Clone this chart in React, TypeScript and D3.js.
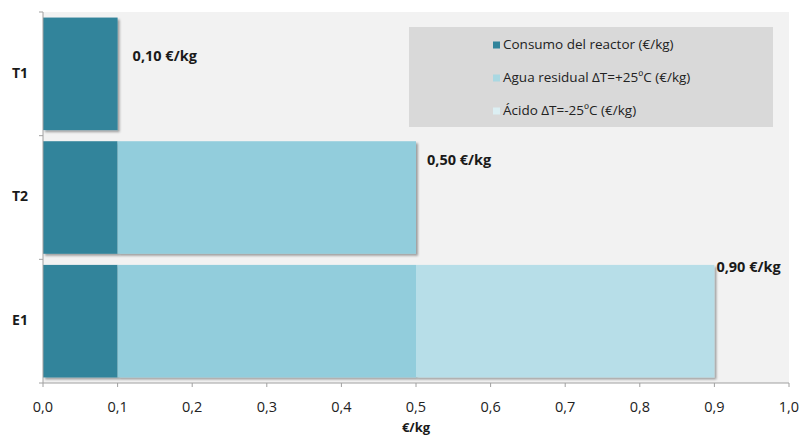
import React from "react";
import * as d3 from "d3";

const categories = ["T1", "T2", "E1"];
const seriesNames = [
  "Consumo del reactor (€/kg)",
  "Agua residual ΔT=+25ºC (€/kg)",
  "Ácido ΔT=-25ºC (€/kg)",
];
const reactor = [0.1, 0.1, 0.1];
const aguaResidual = [0, 0.4, 0.4];
const acido = [0, 0, 0.4];
const totals = [0.1, 0.5, 0.9];
const xTicks = [0, 0.1, 0.2, 0.3, 0.4, 0.5, 0.6, 0.7, 0.8, 0.9, 1.0];

// presentation
const colors = ["#31849b", "#92cddc", "#b7dee8"];
const legendSwatch = ["#31849b", "#a9d8e2", "#dceff3"];
const labelOffsets = [
  { dx: 15, dy: 40 },
  { dx: 11, dy: 20 },
  { dx: 2, dy: 3 },
];

const W = 801;
const H = 436;
const margin = { left: 43, right: 12, top: 12, bottom: 53 };
const font = "'Open Sans', sans-serif";

const fmtTick = (v: number) => d3.format(".1f")(v).replace(".", ",");
const fmtTotal = (v: number) => `${d3.format(".2f")(v).replace(".", ",")} €/kg`;

export default function App() {
  const x = d3.scaleLinear().domain([0, 1]).range([margin.left, W - margin.right]);
  const y = d3
    .scaleBand<string>()
    .domain(categories)
    .range([margin.top, H - margin.bottom])
    .paddingInner(0.09)
    .paddingOuter(0.045);

  const rows = categories.map((c, i) => ({
    cat: c,
    reactor: reactor[i],
    agua: aguaResidual[i],
    acido: acido[i],
  }));
  const stack = d3.stack<any>().keys(["reactor", "agua", "acido"])(rows);

  const step = (H - margin.bottom - margin.top) / categories.length;
  const boundaries = d3.range(categories.length + 1).map((i) => margin.top + i * step);
  const axisY = H - margin.bottom;

  return (
    <svg width={W} height={H} style={{ position: "absolute", left: 0, top: 0 }}>
      <defs>
        <filter id="shadow" x="-5%" y="-5%" width="115%" height="115%">
          <feDropShadow dx="2" dy="2" stdDeviation="1.2" floodColor="#000" floodOpacity="0.35" />
        </filter>
      </defs>
      <rect x={0} y={0} width={W} height={H} fill="#ffffff" />
      <rect
        x={margin.left}
        y={margin.top}
        width={x(1) - margin.left}
        height={axisY - margin.top}
        fill="#f2f2f2"
      />
      {/* stacked bars */}
      {stack.map((layer, si) =>
        layer.map((d, i) => {
          const w = x(d[1]) - x(d[0]);
          if (w <= 0) return null;
          return (
            <rect
              key={`${si}-${i}`}
              x={x(d[0])}
              y={y(categories[i])!}
              width={w}
              height={y.bandwidth()}
              fill={colors[si]}
              filter="url(#shadow)"
            />
          );
        })
      )}
      {/* total labels */}
      {totals.map((t, i) => (
        <text
          key={i}
          x={x(t) + labelOffsets[i].dx}
          y={y(categories[i])! + labelOffsets[i].dy}
          fontFamily={font}
          fontWeight="bold"
          fontSize={14.5}
          fill="#1a1a1a"
          dominantBaseline="middle"
        >
          {fmtTotal(t)}
        </text>
      ))}
      {/* legend */}
      <rect x={409} y={27} width={364} height={100} fill="#d9d9d9" />
      {seriesNames.map((s, i) => (
        <g key={s} transform={`translate(493, ${45 + i * 33})`}>
          <rect x={0} y={-3.5} width={7} height={7} fill={legendSwatch[i]} />
          <text x={10} y={0} fontFamily={font} fontSize={13.5} fill="#222" dominantBaseline="middle">
            {s}
          </text>
        </g>
      ))}
      {/* y axis */}
      <line x1={margin.left} x2={margin.left} y1={margin.top} y2={axisY} stroke="#a0a0a0" />
      {boundaries.map((b, i) => (
        <line key={i} x1={margin.left - 4} x2={margin.left} y1={b} y2={b} stroke="#a0a0a0" />
      ))}
      {categories.map((c) => (
        <text
          key={c}
          x={20}
          y={y(c)! + y.bandwidth() / 2}
          textAnchor="middle"
          dominantBaseline="middle"
          fontFamily={font}
          fontWeight="bold"
          fontSize={14}
          fill="#1a1a1a"
        >
          {c}
        </text>
      ))}
      {/* x axis */}
      <line x1={margin.left} x2={x(1)} y1={axisY} y2={axisY} stroke="#a0a0a0" />
      {xTicks.map((t) => (
        <g key={t}>
          <line x1={x(t)} x2={x(t)} y1={axisY} y2={axisY + 4} stroke="#a0a0a0" />
          <text
            x={x(t)}
            y={axisY + 29}
            textAnchor="middle"
            fontFamily={font}
            fontSize={14.5}
            fill="#222"
          >
            {fmtTick(t)}
          </text>
        </g>
      ))}
      <text
        x={(margin.left + x(1)) / 2}
        y={axisY + 49}
        textAnchor="middle"
        fontFamily={font}
        fontWeight="bold"
        fontSize={13}
        fill="#1a1a1a"
      >
        €/kg
      </text>
    </svg>
  );
}
